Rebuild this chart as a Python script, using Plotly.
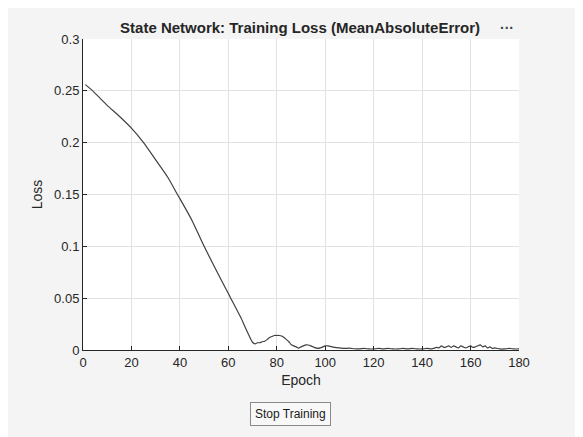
import plotly.graph_objects as go

# training loss
epochs = [1, 4, 7, 10, 15, 20, 25, 30, 35, 39, 40, 45, 50, 55, 60, 61, 65,
          70, 71, 72, 73, 74, 75, 76, 77, 78, 79, 80, 81, 82, 83, 84, 85,
          86, 87, 88, 89, 90, 91, 92, 93, 94, 95, 96, 97, 98, 99, 100,
          101, 102, 103, 104, 106, 108, 110, 112, 114, 116, 118, 120,
          122, 124, 126, 128, 130, 132, 134, 136, 138, 140, 142, 144,
          146, 147, 148, 149, 150, 151, 152, 153, 154, 155, 156, 157,
          158, 159, 160, 161, 162, 163, 164, 165, 166, 167, 168, 169,
          170, 172, 174, 176, 178, 180]
loss = [0.256, 0.250, 0.243, 0.236, 0.2255, 0.214, 0.200, 0.1834, 0.1666,
        0.150, 0.146, 0.125, 0.100, 0.077, 0.0545, 0.050, 0.032,
        0.0075, 0.006, 0.007, 0.007, 0.008, 0.0085, 0.010, 0.012, 0.013,
        0.014, 0.014, 0.014, 0.0135, 0.012, 0.010, 0.008,
        0.005, 0.004, 0.003, 0.0017, 0.003, 0.004, 0.005, 0.0048, 0.004,
        0.003, 0.002, 0.0015, 0.002, 0.003, 0.004,
        0.004, 0.0035, 0.003, 0.0025, 0.002, 0.0015, 0.0018, 0.0012, 0.001,
        0.0015, 0.001, 0.001,
        0.0015, 0.001, 0.0015, 0.001, 0.001, 0.0015, 0.001, 0.0015, 0.001,
        0.001, 0.0015, 0.001,
        0.0025, 0.002, 0.004, 0.0025, 0.003, 0.004, 0.0025, 0.004, 0.003,
        0.002, 0.004, 0.003,
        0.002, 0.003, 0.004, 0.0025, 0.003, 0.004, 0.005, 0.003, 0.004,
        0.002, 0.003, 0.0015,
        0.002, 0.001, 0.001, 0.0015, 0.001, 0.001]

x_ticks = [0, 20, 40, 60, 80, 100, 120, 140, 160, 180]
y_ticks = [0, 0.05, 0.1, 0.15, 0.2, 0.25, 0.3]
y_labels = ["0", "0.05", "0.1", "0.15", "0.2", "0.25", "0.3"]

font = "Liberation Sans, Arial, sans-serif"

fig = go.Figure()
fig.add_trace(go.Scatter(
    x=epochs, y=loss, mode="lines",
    line=dict(color="#404040", width=1.2, shape="spline", smoothing=0.6),
    showlegend=False
))

axis_common = dict(
    showline=True, linecolor="#262626", linewidth=1,
    ticks="inside", ticklen=4, tickcolor="#262626",
    gridcolor="#e1e1e1", gridwidth=1, zeroline=False,
    tickfont=dict(family=font, size=13, color="#262626"),
    mirror=False,
)

# the page body adds an 8px offset, so the margins are shifted to match
fig.update_layout(
    width=583, height=437,
    paper_bgcolor="#f4f4f4", plot_bgcolor="white",
    margin=dict(l=75, r=72, t=31, b=95),
    title=dict(text="<b>State Network: Training Loss (MeanAbsoluteError)</b>",
               x=0.501, xanchor="center", y=0.954, yanchor="middle",
               font=dict(family=font, size=15, color="#262626")),
    xaxis=dict(range=[0, 180], tickvals=x_ticks,
               title=dict(text="Epoch", standoff=6,
                          font=dict(family=font, size=14, color="#262626")),
               **axis_common),
    yaxis=dict(range=[0, 0.3], tickvals=y_ticks, ticktext=y_labels,
               title=dict(text="Loss", standoff=8,
                          font=dict(family=font, size=14, color="#262626")),
               **axis_common),
    annotations=[
        dict(text="<b>···</b>", xref="paper", yref="paper", x=0.993, y=1.035,
             xanchor="right", yanchor="middle", showarrow=False,
             font=dict(family=font, size=14, color="#404040")),
        dict(text="Stop Training", xref="paper", yref="paper", x=0.477, y=-0.206,
             xanchor="center", yanchor="middle", showarrow=False,
             bgcolor="#f8f8f8", bordercolor="#8a8a8a", borderwidth=1, borderpad=4,
             font=dict(family=font, size=12, color="#1a1a1a")),
    ],
)

fig.write_html("out.html")
